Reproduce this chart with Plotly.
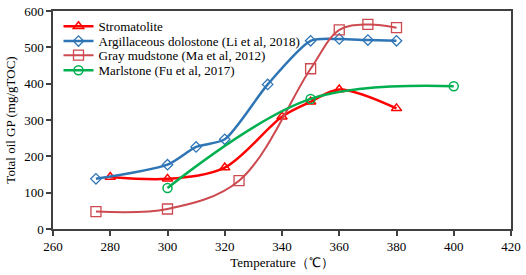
import plotly.graph_objects as go

strom_x = [280, 300, 320, 340, 350, 360, 380]
strom_y = [143, 138, 169, 309, 350, 384, 332]

argil_x = [275, 300, 310, 320, 335, 350, 360, 370, 380]
argil_y = [138, 177, 226, 247, 398, 518, 523, 520, 518]

gray_x = [275, 300, 325, 350, 360, 370, 380]
gray_y = [48, 55, 133, 441, 548, 563, 554]

marl_x = [300, 350, 400]
marl_y = [113, 358, 393]

x_ticks = [260, 280, 300, 320, 340, 360, 380, 400, 420]
y_ticks = [0, 100, 200, 300, 400, 500, 600]

font = "Liberation Serif, Times New Roman, serif"

fig = go.Figure()
fig.add_trace(go.Scatter(x=strom_x, y=strom_y, name="Stromatolite", mode="lines+markers", legend="legend",
                         line=dict(color="#FF0000", width=2.5, shape="spline", smoothing=0.9),
                         marker=dict(symbol="triangle-up-open", size=9, color="#FF0000", line=dict(width=1.5))))
fig.add_trace(go.Scatter(x=argil_x, y=argil_y, name="Argillaceous dolostone (Li et al, 2018)", mode="lines+markers",
                         legend="legend2",
                         line=dict(color="#2E75B6", width=2.5, shape="spline", smoothing=0.7),
                         marker=dict(symbol="diamond-open", size=8, color="#2E75B6", line=dict(width=1.3))))
fig.add_trace(go.Scatter(x=gray_x, y=gray_y, name="Gray mudstone (Ma et al, 2012)", mode="lines+markers",
                         legend="legend3",
                         line=dict(color="#CC4A50", width=2, shape="spline", smoothing=1),
                         marker=dict(symbol="square-open", size=10, color="#CC4A50", line=dict(width=1.3))))
fig.add_trace(go.Scatter(x=marl_x, y=marl_y, name="Marlstone (Fu et al, 2017)", mode="lines+markers",
                         legend="legend4",
                         line=dict(color="#00B050", width=2.5, shape="spline", smoothing=1),
                         marker=dict(symbol="circle-open", size=9, color="#00B050", line=dict(width=1.5))))

axis_common = dict(showline=True, linecolor="#404040", linewidth=1.5, mirror=True,
                   ticks="outside", ticklen=5, tickcolor="#404040", tickwidth=1.5,
                   showgrid=False, zeroline=False, automargin=False, ticklabeloverflow="allow",
                   tickfont=dict(family=font, size=13, color="#000000"))

leg_common = dict(x=0.012, xanchor="left", yanchor="middle", bgcolor="rgba(0,0,0,0)",
                  font=dict(family=font, size=13, color="#000000"), itemwidth=30)

fig.update_layout(
    width=526, height=275,
    margin=dict(l=53, r=15, t=11, b=46),
    paper_bgcolor="white", plot_bgcolor="white",
    font=dict(family=font, size=13, color="#000000"),
    showlegend=True,
    legend=dict(y=0.93, **leg_common),
    legend2=dict(y=0.862, **leg_common),
    legend3=dict(y=0.797, **leg_common),
    legend4=dict(y=0.728, **leg_common),
    xaxis=dict(range=[260, 420], tickvals=x_ticks,
               title=dict(text="Temperature（℃）", font=dict(family=font, size=13), standoff=5), **axis_common),
    yaxis=dict(range=[0, 600], tickvals=y_ticks,
               title=dict(text="Total oil GP (mg/gTOC)", font=dict(family=font, size=13), standoff=6), **axis_common),
)

fig.write_html("out.html", config={"displayModeBar": False},
               post_script="document.body.style.margin='0';")
